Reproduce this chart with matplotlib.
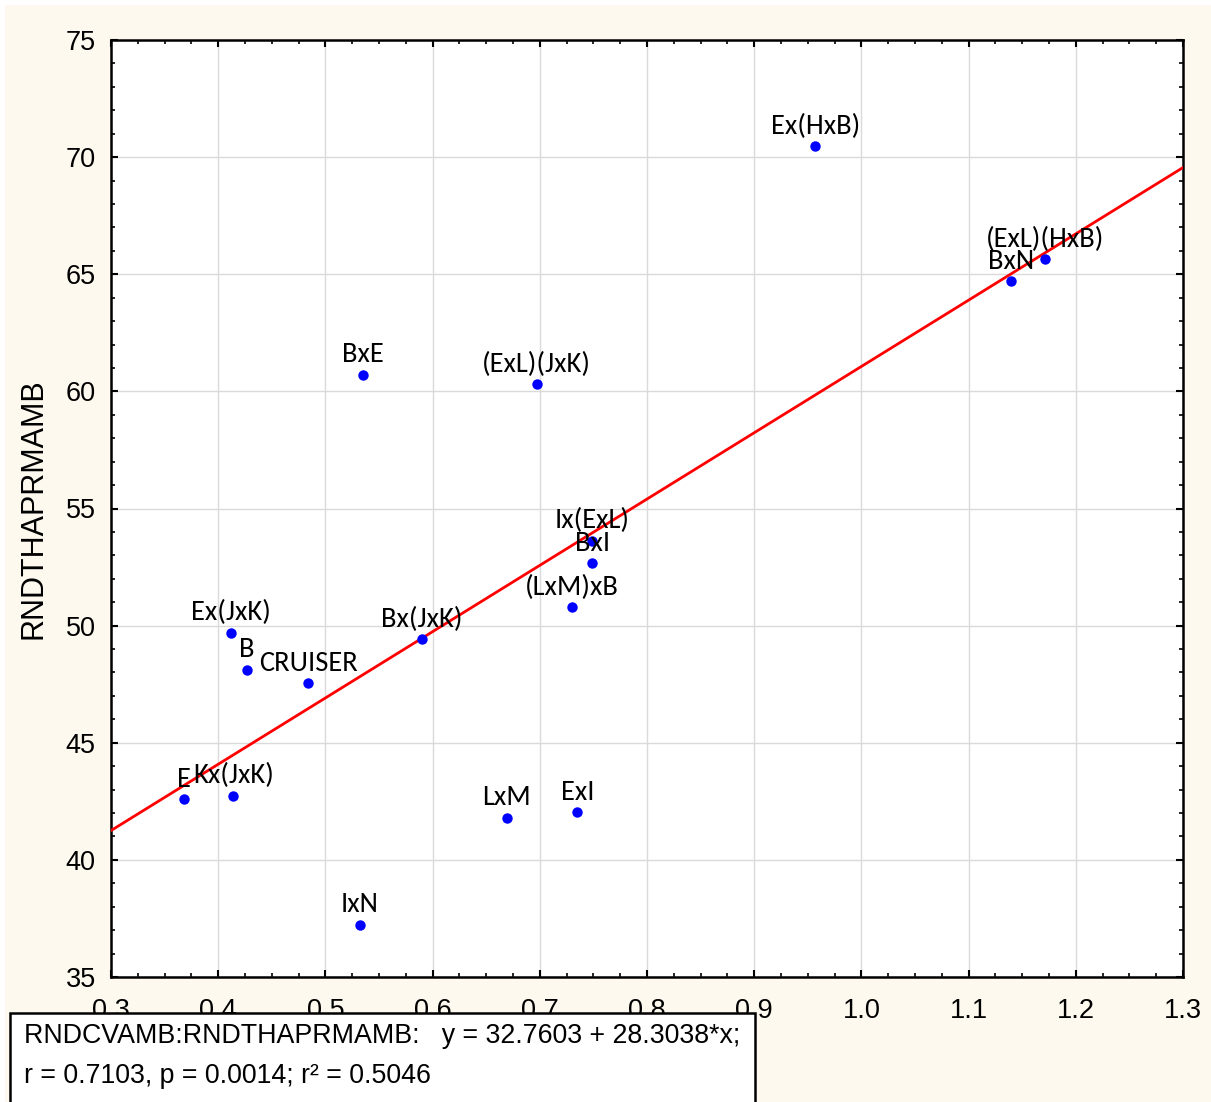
import matplotlib
matplotlib.use('Agg')
import matplotlib.pyplot as plt
from matplotlib.patches import Rectangle
from matplotlib.ticker import MultipleLocator
import numpy as np

# points (RNDCVAMB vs RNDTHAPRMAMB)
names = ['Ex(HxB)', '(ExL)(HxB)', 'BxN', 'BxE', '(ExL)(JxK)', 'Ix(ExL)', 'BxI',
         '(LxM)xB', 'Bx(JxK)', 'Ex(JxK)', 'B', 'CRUISER', 'E', 'Kx(JxK)',
         'LxM', 'ExI', 'IxN']
cv = [0.957, 1.171, 1.140, 0.535, 0.697, 0.749, 0.749,
      0.730, 0.590, 0.412, 0.427, 0.484, 0.368, 0.414,
      0.669, 0.735, 0.532]
thap = [70.47, 65.65, 64.71, 60.70, 60.31, 53.63, 52.66,
        50.78, 49.42, 49.70, 48.11, 47.54, 42.59, 42.73,
        41.79, 42.04, 37.22]
intercept = 32.7603
slope = 28.3038

CREAM = '#fdf9ee'
LABEL_FONT = ['Carlito', 'Lato', 'DejaVu Sans']
TICK_FONT = ['Liberation Sans', 'DejaVu Sans']

fig = plt.figure(figsize=(12.11, 11.02), dpi=100, facecolor='white')
fig.patches.append(Rectangle((5/1211, 0), 1, 1 - 5/1102, transform=fig.transFigure,
                             facecolor=CREAM, edgecolor='none', zorder=-10))
ax = fig.add_axes([111/1211, 1 - 977/1102, (1183-111)/1211, (977-40)/1102])
ax.set_facecolor('white')

ax.set_xlim(0.3, 1.3)
ax.set_ylim(35, 75)
ax.xaxis.set_major_locator(MultipleLocator(0.1))
ax.xaxis.set_minor_locator(MultipleLocator(0.025))
ax.yaxis.set_major_locator(MultipleLocator(5))
ax.yaxis.set_minor_locator(MultipleLocator(1))
ax.set_xticks(np.arange(0.3, 1.31, 0.1))
ax.set_xticklabels(['0.3', '0.4', '0.5', '0.6', '0.7', '0.8', '0.9', '1.0', '1.1', '1.2', '1.3'])
ax.grid(True, which='major', color='#dadada', linewidth=1)
ax.set_axisbelow(True)

for s in ax.spines.values():
    s.set_linewidth(1.8)
    s.set_color('black')
ax.tick_params(which='both', direction='in', top=True, right=True, color='black')
ax.tick_params(which='major', length=5, width=1.5, labelsize=19.5, pad=11)
ax.tick_params(which='minor', length=3, width=1.2)
ax.tick_params(axis='x', which='major', pad=15)
for lab in ax.get_xticklabels() + ax.get_yticklabels():
    lab.set_family(TICK_FONT)

xs = np.array([0.3, 1.3])
ax.plot(xs, intercept + slope * xs, color='#ff0000', linewidth=2.0, zorder=3)
ax.plot(cv, thap, 'o', color='#0000ff', markersize=7.5, markeredgewidth=0, zorder=4)

for n, x, y in zip(names, cv, thap):
    ax.annotate(n, (x, y), xytext=(0, 9), textcoords='offset points',
                ha='center', va='baseline', fontsize=20.5, family=LABEL_FONT,
                color='black', zorder=5)

ax.set_ylabel('RNDTHAPRMAMB', fontsize=22, family=TICK_FONT, labelpad=12)

# stats box at the bottom, drawn over the x tick labels
fig.patches.append(Rectangle((10/1211, -0.02), 745/1211, 0.02 + 1 - 1013/1102,
                             transform=fig.transFigure, facecolor='white',
                             edgecolor='black', linewidth=1.8, zorder=10))
fig.text(24/1211, 1 - 1043/1102,
         'RNDCVAMB:RNDTHAPRMAMB:   y = 32.7603 + 28.3038*x;',
         fontsize=19.3, family=TICK_FONT, va='baseline', zorder=11)
fig.text(24/1211, 1 - 1083/1102,
         'r = 0.7103, p = 0.0014; r\u00b2 = 0.5046',
         fontsize=19.3, family=TICK_FONT, va='baseline', zorder=11)

fig.savefig('out.png', dpi=100, facecolor=fig.get_facecolor())
